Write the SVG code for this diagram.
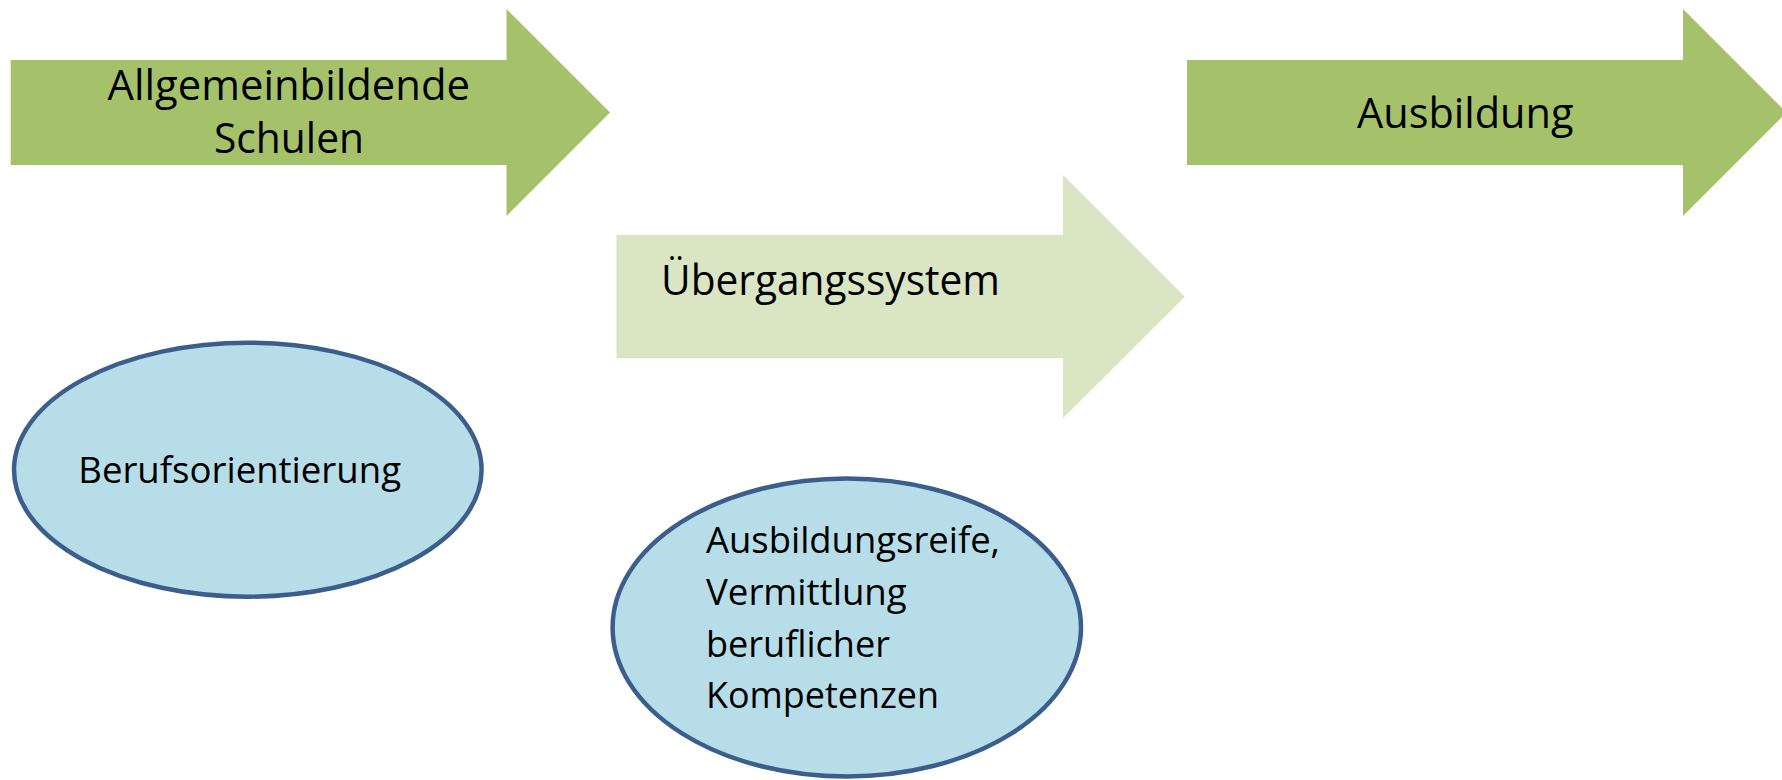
<svg xmlns="http://www.w3.org/2000/svg" width="1782" height="780" viewBox="0 0 1782 780">
<style>
.t{font-family:"Open Sans","Noto Sans","Liberation Sans",sans-serif;fill:#000}
.big{font-size:42px}
.small{font-size:36px}
.dark{fill:#A5C26A}
.light{fill:#DAE6C3}
.ell{fill:#B7DDE8;stroke:#3B5E8C;stroke-width:4.5}
</style>
<rect width="1782" height="780" fill="#fff"/>
<g id="connectors"></g>
<g id="allgemeinbildende-schulen">
<polygon class="dark" points="10.7,60 506.5,60 506.5,9 610,112.5 506.5,216 506.5,165 10.7,165"/>
<text class="t big" x="107.5" y="100" textLength="362.5" lengthAdjust="spacingAndGlyphs">Allgemeinbildende</text>
<text class="t big" x="214" y="152.7" textLength="150" lengthAdjust="spacingAndGlyphs">Schulen</text>
</g>
<g id="uebergangssystem">
<polygon class="light" points="616.5,235 1063,235 1063,175 1184.8,296.7 1063,418.3 1063,358.3 616.5,358.3"/>
<text class="t big" x="661" y="295" textLength="339" lengthAdjust="spacingAndGlyphs">Übergangssystem</text>
</g>
<g id="ausbildung">
<polygon class="dark" points="1187,60 1683,60 1683,9 1786.5,112.5 1683,216 1683,165 1187,165"/>
<text class="t big" x="1357" y="127.7" textLength="216.5" lengthAdjust="spacingAndGlyphs">Ausbildung</text>
</g>
<g id="berufsorientierung">
<ellipse class="ell" cx="247.8" cy="469.7" rx="233.8" ry="127"/>
<text class="t small" x="78.3" y="483.3" textLength="322.7" lengthAdjust="spacingAndGlyphs">Berufsorientierung</text>
</g>
<g id="ausbildungsreife">
<ellipse class="ell" cx="846.8" cy="627.5" rx="234.2" ry="149"/>
<text class="t small" x="706" y="553.3" textLength="294" lengthAdjust="spacingAndGlyphs">Ausbildungsreife,</text>
<text class="t small" x="706" y="605" textLength="200.7" lengthAdjust="spacingAndGlyphs">Vermittlung</text>
<text class="t small" x="706" y="656.7" textLength="184" lengthAdjust="spacingAndGlyphs">beruflicher</text>
<text class="t small" x="706" y="708.3" textLength="233" lengthAdjust="spacingAndGlyphs">Kompetenzen</text>
</g>
</svg>
